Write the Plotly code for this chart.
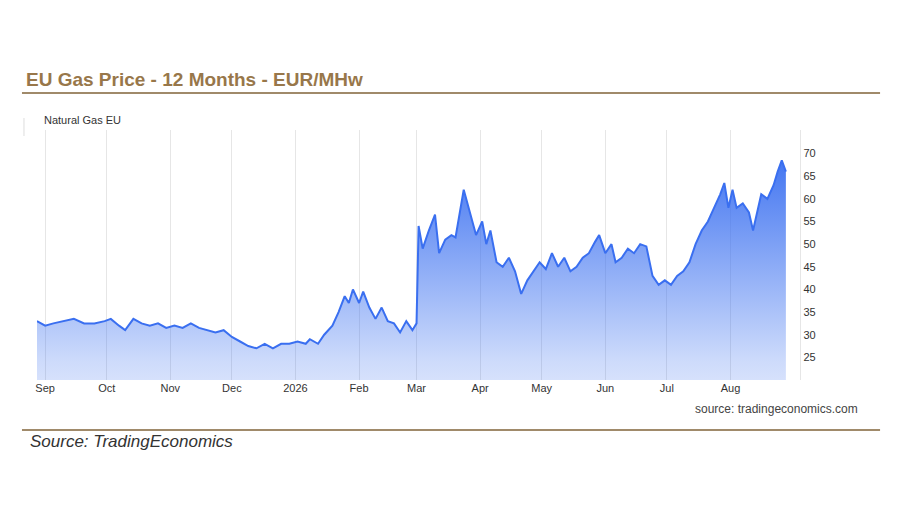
import plotly.graph_objects as go

dates = ["2025-08-28","2025-09-01","2025-09-05","2025-09-10","2025-09-15","2025-09-20","2025-09-25","2025-09-30",
"2025-10-03","2025-10-07","2025-10-10","2025-10-14","2025-10-18","2025-10-22","2025-10-26","2025-10-30",
"2025-11-03","2025-11-07","2025-11-11","2025-11-15","2025-11-19","2025-11-23","2025-11-27",
"2025-12-01","2025-12-05","2025-12-09","2025-12-13","2025-12-17","2025-12-21","2025-12-25","2025-12-29",
"2026-01-02","2026-01-06","2026-01-08","2026-01-12","2026-01-15","2026-01-19","2026-01-22","2026-01-25","2026-01-27","2026-01-29",
"2026-02-01","2026-02-03","2026-02-06","2026-02-09","2026-02-12","2026-02-15","2026-02-18","2026-02-21","2026-02-24","2026-02-27",
"2026-03-01","2026-03-02","2026-03-04","2026-03-07","2026-03-10","2026-03-12","2026-03-15","2026-03-18","2026-03-20","2026-03-24","2026-03-27","2026-03-30",
"2026-04-02","2026-04-04","2026-04-06","2026-04-09","2026-04-12","2026-04-15","2026-04-18","2026-04-21","2026-04-24","2026-04-27","2026-04-30",
"2026-05-03","2026-05-06","2026-05-09","2026-05-12","2026-05-15","2026-05-18","2026-05-21","2026-05-24","2026-05-27","2026-05-29",
"2026-06-01","2026-06-04","2026-06-06","2026-06-09","2026-06-12","2026-06-15","2026-06-18","2026-06-21","2026-06-24","2026-06-27","2026-06-30",
"2026-07-03","2026-07-06","2026-07-09","2026-07-12","2026-07-15","2026-07-18","2026-07-21","2026-07-24","2026-07-27","2026-07-29","2026-07-31",
"2026-08-02","2026-08-04","2026-08-07","2026-08-10","2026-08-12","2026-08-14","2026-08-16","2026-08-19","2026-08-21","2026-08-22","2026-08-24","2026-08-26","2026-08-28"]
prices = [33,32,32.5,33,33.5,32.5,32.5,33,
33.5,32,31,33.5,32.5,32,32.5,31.5,
32,31.5,32.5,31.5,31,30.5,31,
29.5,28.5,27.5,27,28,27,28,28,
28.5,28,29,28,30,32,35,38.5,37,40,
37,39.5,36,33.5,36,33,32.5,30.5,33,31,
32.5,54,49,53,56.5,48,51,52,51.5,62,57,52,
55,50,53,46,45,47,44,39,42,44,46,
44.5,48,45,47,44,45,47,48,50.5,52,
48,50,46,47,49,48,50,49.5,43,41,42,
41,43,44,46,50,53,55,58,61,63.5,58,
62,58,59,57,53,57,61,60,62,63,66,68.5,66]

tick_vals = ["2025-09-01","2025-10-01","2025-11-01","2025-12-01","2026-01-01","2026-02-01",
             "2026-03-01","2026-04-01","2026-05-01","2026-06-01","2026-07-01","2026-08-01"]
tick_text = ["Sep","Oct","Nov","Dec","2026","Feb","Mar","Apr","May","Jun","Jul","Aug"]
y_ticks = [25,30,35,40,45,50,55,60,65,70]

W, H = 900, 510
OFF = 8  # page body margin offset

def px(x):
    return (x - OFF) / W

def py(y):
    return 1 - (y - OFF) / H

fig = go.Figure()
fig.add_trace(go.Scatter(
    x=dates, y=prices, mode="lines",
    line=dict(color="#3a6ff0", width=2),
    fill="tozeroy",
    fillgradient=dict(type="vertical",
                      colorscale=[[0, "rgba(58,111,240,0.0)"], [0.35, "rgba(58,111,240,0.25)"],
                                  [1, "rgba(58,111,240,0.95)"]]),
    hoverinfo="skip", showlegend=False))

fig.update_layout(
    width=W, height=H, margin=dict(l=0, r=0, t=0, b=0),
    paper_bgcolor="white", plot_bgcolor="white",
    font=dict(family="Liberation Sans, Arial", color="#333"),
    xaxis=dict(domain=[px(35), px(800)], range=["2025-08-28", "2026-09-04"],
               tickvals=tick_vals, ticktext=tick_text, showgrid=True,
               gridcolor="#e6e6e6", tickfont=dict(size=11, color="#333"),
               showline=False, zeroline=False, ticks=""),
    yaxis=dict(domain=[py(380), py(130)], range=[20, 75.2], side="right",
               tickvals=y_ticks, showgrid=False,
               tickfont=dict(size=11, color="#333"), zeroline=False,
               showline=True, linecolor="#e6e6e6", ticks=""),
    shapes=[
        dict(type="line", xref="paper", yref="paper", x0=px(20), x1=px(880), y0=py(93), y1=py(93),
             line=dict(color="#a08a6a", width=2)),
        dict(type="line", xref="paper", yref="paper", x0=px(20), x1=px(880), y0=py(430), y1=py(430),
             line=dict(color="#a08a6a", width=2)),
        dict(type="line", xref="paper", yref="paper", x0=px(22), x1=px(22), y0=py(118), y1=py(136),
             line=dict(color="#dddddd", width=1)),
    ],
    annotations=[
        dict(text="<b>EU Gas Price - 12 Months - EUR/MHw</b>", xref="paper", yref="paper",
             x=px(22), y=py(80), xanchor="left", yanchor="middle", showarrow=False,
             font=dict(size=19, color="#98774a")),
        dict(text="Natural Gas EU", xref="paper", yref="paper", x=px(40), y=py(120),
             xanchor="left", yanchor="middle", showarrow=False, font=dict(size=11, color="#333")),
        dict(text="source: tradingeconomics.com", xref="paper", yref="paper", x=px(860), y=py(409),
             xanchor="right", yanchor="middle", showarrow=False, font=dict(size=12, color="#444")),
        dict(text="<i>Source: TradingEconomics</i>", xref="paper", yref="paper", x=px(26), y=py(441),
             xanchor="left", yanchor="middle", showarrow=False, font=dict(size=17, color="#333")),
    ],
)
fig.write_html("out.html")
